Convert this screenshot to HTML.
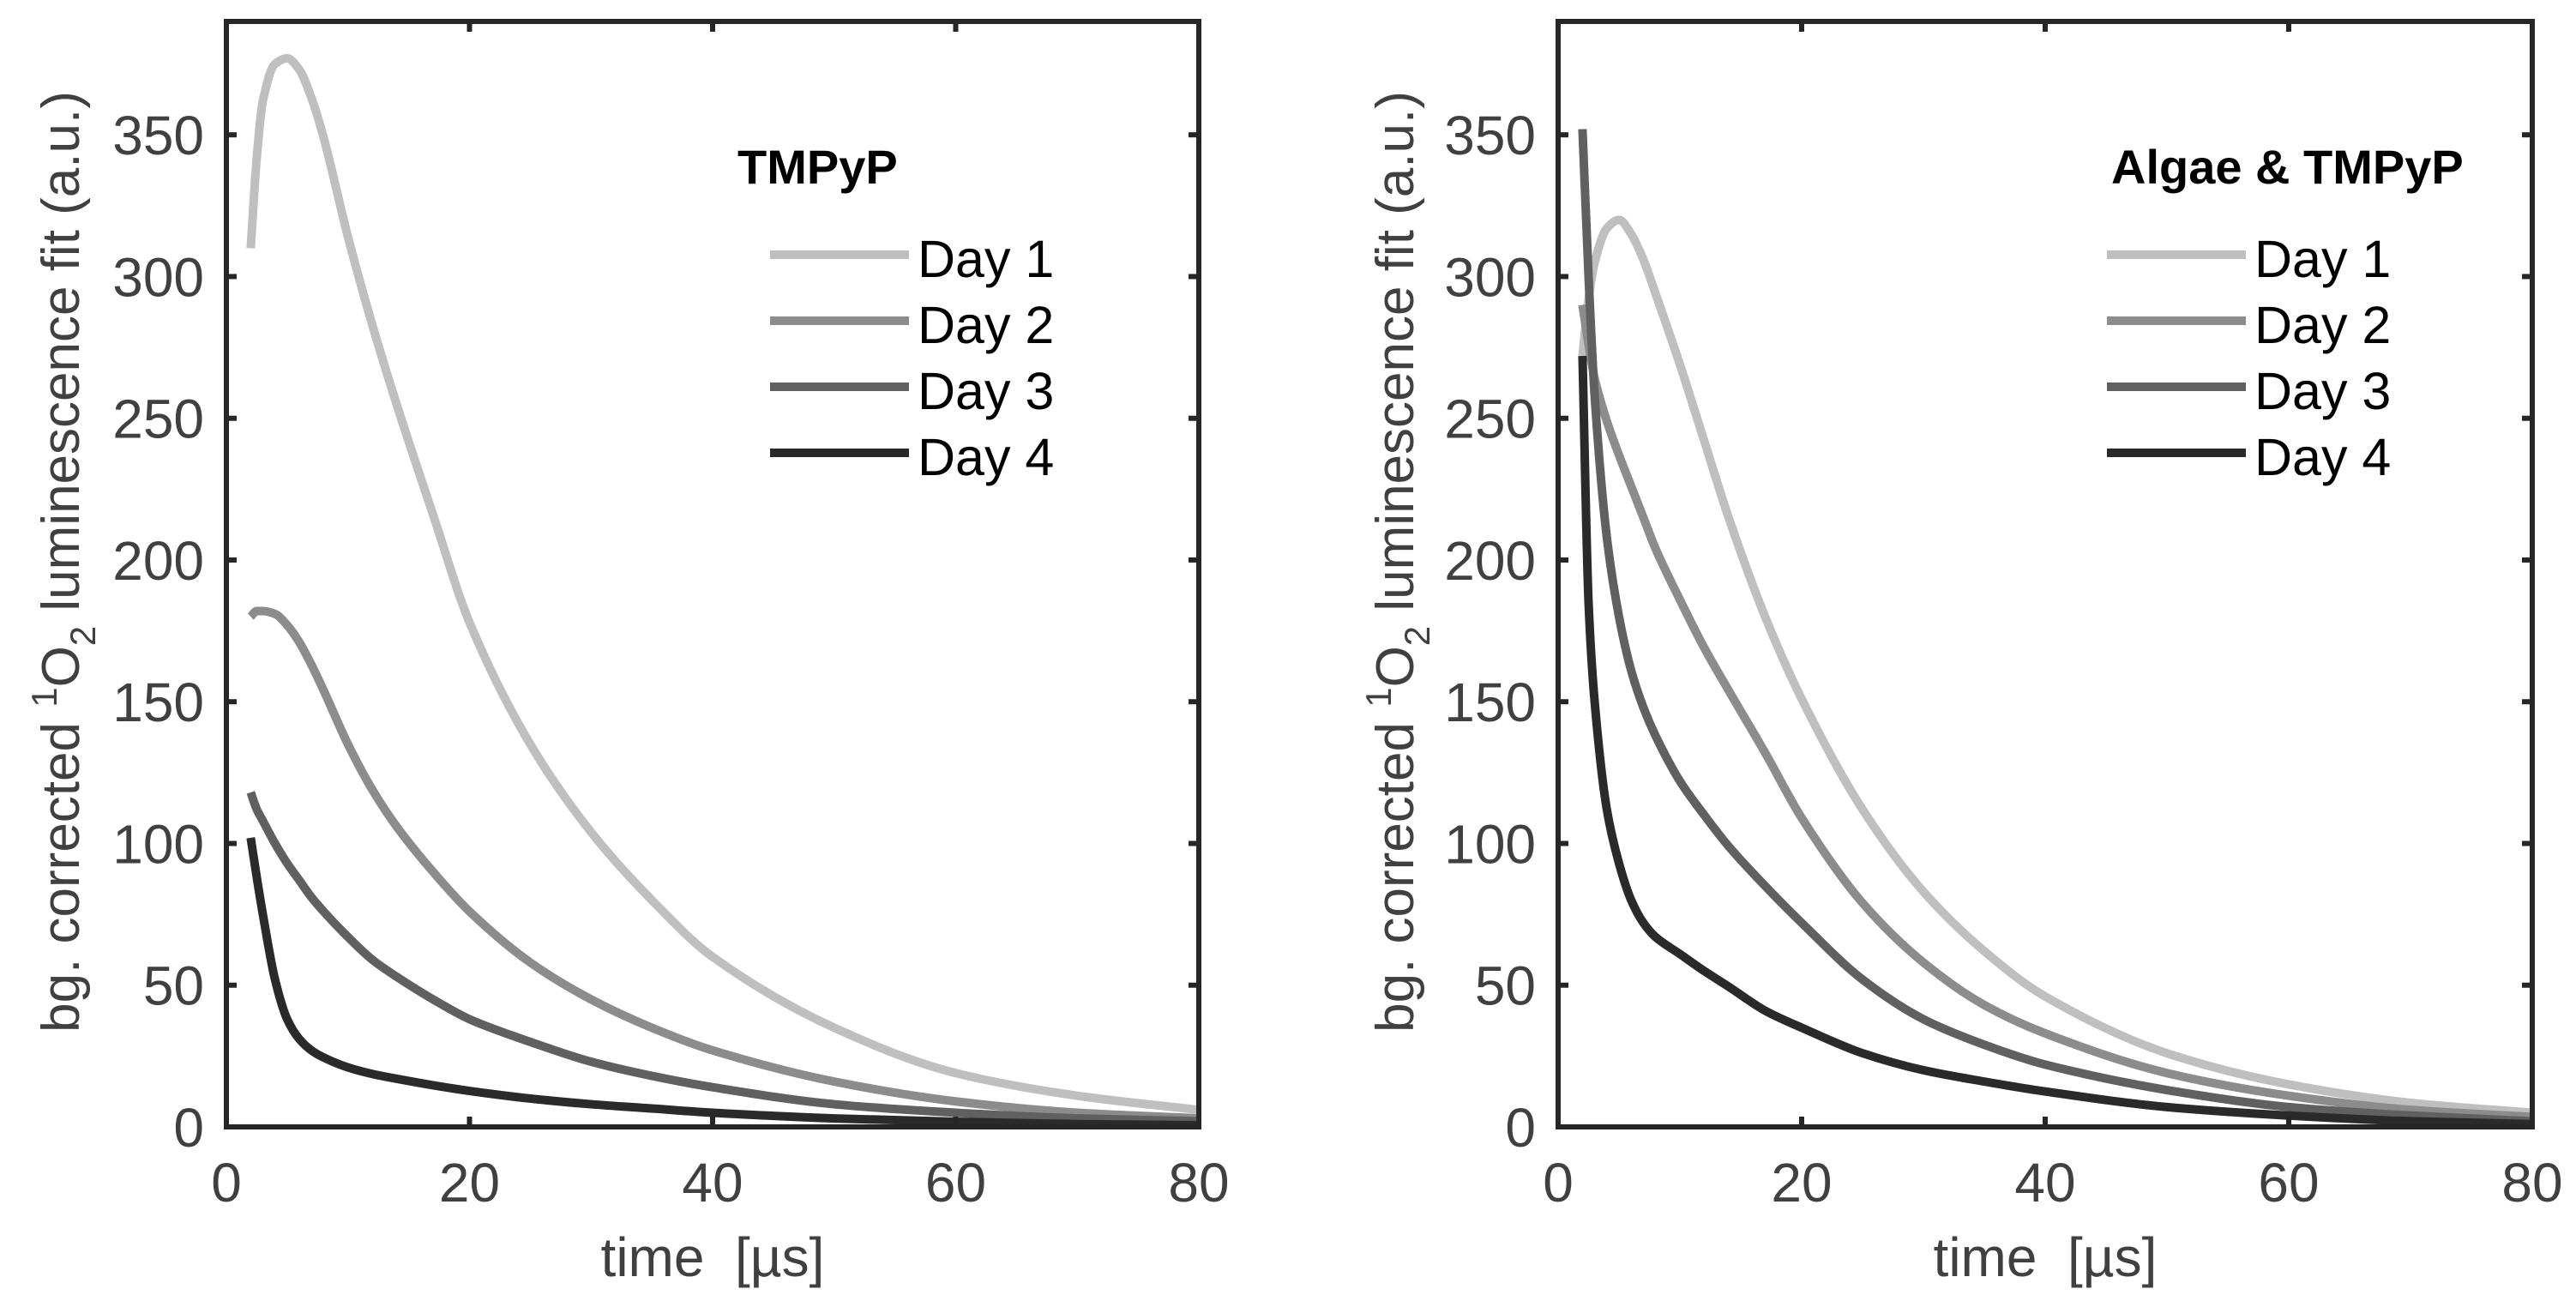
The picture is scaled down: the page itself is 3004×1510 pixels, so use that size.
<!DOCTYPE html>
<html>
<head>
<meta charset="utf-8">
<style>
html,body{margin:0;padding:0;background:#fff;}
svg{display:block;font-family:"Liberation Sans",Arial,sans-serif;}
</style>
</head>
<body>
<svg id="fig" width="3004" height="1510" viewBox="0 0 3004 1510" xmlns="http://www.w3.org/2000/svg">
  <rect width="3004" height="1510" fill="#fff"/>
</svg>
<script>
// ---- data ----
const times = [2,2.5,3,4,5,6,7,8,10,12,14,17,20,25,30,35,40,50,60,70,80];
const seriesNames = ["Day 1","Day 2","Day 3","Day 4"];
const leftDay1 = [310,342,362,375,377,373,363,349,314,283,255,216,178,135,104,80,60,35,19,11,6];
const leftDay2 = [180,182,182,181,177,171,163,154,135,119,106,90,76,58,45,35,27,16,9,5,3];
const leftDay3 = [118,112,108,100,93,87,81,76,67,59,53,45,38,30,23,18,14,8,5,3,2];
const leftDay4 = [102,88,75,52,38,31,27,24.5,21,18.7,17,14.7,12.7,10,8,6.5,5,3,1.8,1,0.6];
const rightDay1 = [272,292,305,317,320,315,306,294,269,242,215,180,151,112,83,62,46,26,15,8.5,5];
const rightDay2 = [290,276,264,249,237,226,215,204,186,169,154,132,109,79,58,43,33,19,11,6,3.5];
const rightDay3 = [352,300,258,208,180,161,148,138,122,110,99,85,72,52,38,29,22,13,7,4,2];
const rightDay4 = [272,185,150,112,93,80,72,67,61,55,49.5,41,35,26,20,16,12.5,7,4,2,1];
const xTicks = [0,20,40,60,80];
const yTicks = [0,50,100,150,200,250,300,350];
const colors = ["#bfbfbf","#8c8c8c","#606060","#2a2a2a"];

const NS = "http://www.w3.org/2000/svg";
const svg = document.getElementById("fig");
function mk(tag, attrs, parent){
  const e = document.createElementNS(NS, tag);
  for (const k in attrs) e.setAttribute(k, attrs[k]);
  (parent||svg).appendChild(e);
  return e;
}

// monotone cubic path
function monoPath(xs, ys){
  const n = xs.length, d = [], m = new Array(n);
  for (let i=0;i<n-1;i++) d.push((ys[i+1]-ys[i])/(xs[i+1]-xs[i]));
  m[0]=d[0]; m[n-1]=d[n-2];
  for (let i=1;i<n-1;i++){
    if (d[i-1]*d[i] <= 0) m[i]=0;
    else m[i] = 2/(1/d[i-1]+1/d[i]);
  }
  let p = "M"+xs[0].toFixed(2)+","+ys[0].toFixed(2);
  for (let i=0;i<n-1;i++){
    const h = xs[i+1]-xs[i];
    p += " C"+(xs[i]+h/3).toFixed(2)+","+(ys[i]+m[i]*h/3).toFixed(2)+" "+
         (xs[i+1]-h/3).toFixed(2)+","+(ys[i+1]-m[i+1]*h/3).toFixed(2)+" "+
         xs[i+1].toFixed(2)+","+ys[i+1].toFixed(2);
  }
  return p;
}

function panel(cfg){
  const L = cfg.left, R = cfg.right, T = 25, B = 1314;
  const xS = v => L + (v-0)/80*(R-L);
  const yS = v => B - (v-0)/390*(B-T);
  const g = mk("g", {});
  
  

  cfg.series.forEach((vals, i) => {
    const px = times.map(xS), py = vals.map(yS);
    const p = mk("path", {d: monoPath(px, py), fill:"none", stroke: colors[i], "stroke-width": 10, "stroke-linejoin":"round"}, g);
    
    
  });

  const box = mk("rect", {x:L, y:T, width:R-L, height:B-T, fill:"none", stroke:"#262626", "stroke-width":6}, g);
  
  

  yTicks.forEach(v => {
    const y = yS(v);
    mk("line", {x1:L, x2:L+12, y1:y, y2:y, stroke:"#262626", "stroke-width":6}, g);
    mk("line", {x1:R, x2:R-12, y1:y, y2:y, stroke:"#262626", "stroke-width":6}, g);
    const t = mk("text", {x:L-26, y:y+23, "text-anchor":"end", "font-size":64, fill:"#404040"}, g);
    
    
    t.textContent = v;
  });
  xTicks.forEach(v => {
    const x = xS(v);
    mk("line", {x1:x, x2:x, y1:B, y2:B-12, stroke:"#262626", "stroke-width":6}, g);
    mk("line", {x1:x, x2:x, y1:T, y2:T+12, stroke:"#262626", "stroke-width":6}, g);
    const t = mk("text", {x:x, y:1401, "text-anchor":"middle", "font-size":64, fill:"#404040"}, g);
    
    
    t.textContent = v;
  });

  const xl = mk("text", {x:(L+R)/2, y:1488, "text-anchor":"middle", "font-size":64, fill:"#404040"}, g);
  
  
  xl.textContent = "time\u00a0\u00a0[µs]";

  const yl = mk("text", {transform:"translate("+cfg.ylabelX+",655) rotate(-90)", "text-anchor":"middle", "font-size":62, fill:"#404040"}, g);
  
  
  const parts = [["bg. corrected\u00a0",0,62],["1",-26,42],["O",26,62],["2",19,42],["\u00a0luminescence fit (a.u.)",-19,62]];
  parts.forEach(p => {
    const ts = mk("tspan", {dy:p[1], "font-size":p[2]}, yl);
    ts.textContent = p[0];
  });

  const tt = mk("text", {x:cfg.titleX, y:214, "font-size":56, "font-weight":"bold", fill:"#000"}, g);
  
  
  tt.textContent = cfg.title;

  seriesNames.forEach((s, i) => {
    const y = 297 + i*77;
    const le = mk("g", {}, g);
    
    
    mk("line", {x1:cfg.legX, x2:cfg.legX+162, y1:y, y2:y, stroke:colors[i], "stroke-width":10}, le);
    const lt = mk("text", {x:cfg.legX+172, y:y+26, "font-size":61, fill:"#000"}, le);
    lt.textContent = s;
  });
}

panel({name:"panel-tmpyp", left:264, right:1398, ylabelX:92, titleX:860, legX:898, title:"TMPyP",
       series:[leftDay1,leftDay2,leftDay3,leftDay4]});
panel({name:"panel-algae-tmpyp", left:1817, right:2953, ylabelX:1648, titleX:2462, legX:2457, title:"Algae & TMPyP",
       series:[rightDay1,rightDay2,rightDay3,rightDay4]});
</script>
</body>
</html>
